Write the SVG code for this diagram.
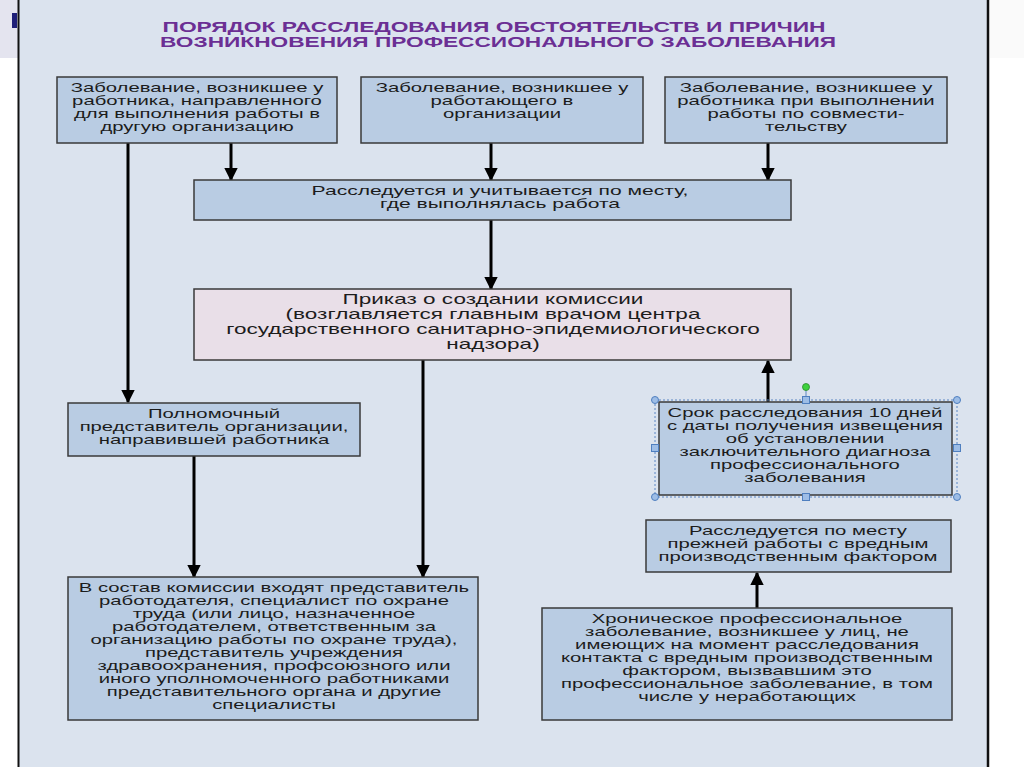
<svg xmlns="http://www.w3.org/2000/svg" width="1024" height="767" viewBox="0 0 1024 767">
<defs>
<style>
.box{fill:#b9cce3;stroke:#3a3a3a;stroke-width:1.5}
.pink{fill:#e9dfe8;stroke:#3a3a3a;stroke-width:1.5}
.t{font-family:"Liberation Sans",Arial,sans-serif;font-size:13px;fill:#1c1c1c;text-anchor:middle}
.tp{font-family:"Liberation Sans",Arial,sans-serif;font-size:14px;fill:#1c1c1c;text-anchor:middle}
.title{font-family:"Liberation Sans",Arial,sans-serif;font-size:14px;font-weight:bold;fill:#6b2f94;text-anchor:middle}
.c{stroke:#000;stroke-width:3;fill:none}
.hc{fill:#9dbde6;stroke:#4f7fbf;stroke-width:1}
</style>
<marker id="ah" viewBox="0 0 10 10" refX="9" refY="5" markerWidth="4.6" markerHeight="4.6" markerUnits="strokeWidth" orient="auto">
<path d="M0,0 L10,5 L0,10 Z" fill="#000"/>
</marker>
</defs>
<rect x="0" y="0" width="1024" height="767" fill="#ffffff"/>
<rect x="0" y="0" width="18" height="58" fill="#e4e4ef"/>
<rect x="12" y="13" width="5" height="15" fill="#1f1f78"/>
<rect x="990" y="0" width="34" height="58" fill="#fafafa"/>
<rect x="18" y="0" width="970" height="767" fill="#dbe3ee"/>
<line x1="18.5" y1="0" x2="18.5" y2="767" stroke="#111" stroke-width="2"/>
<line x1="988" y1="0" x2="988" y2="767" stroke="#111" stroke-width="2.5"/>

<g id="title">
<text class="title" x="494" y="32" textLength="663" lengthAdjust="spacingAndGlyphs">ПОРЯДОК РАССЛЕДОВАНИЯ ОБСТОЯТЕЛЬСТВ И ПРИЧИН</text>
<text class="title" x="498" y="47" textLength="676" lengthAdjust="spacingAndGlyphs">ВОЗНИКНОВЕНИЯ ПРОФЕССИОНАЛЬНОГО ЗАБОЛЕВАНИЯ</text>
</g>

<g id="connectors">
<line class="c" x1="128" y1="143" x2="128" y2="402" marker-end="url(#ah)"/>
<line class="c" x1="231" y1="143" x2="231" y2="180" marker-end="url(#ah)"/>
<line class="c" x1="491" y1="143" x2="491" y2="180" marker-end="url(#ah)"/>
<line class="c" x1="768" y1="143" x2="768" y2="180" marker-end="url(#ah)"/>
<line class="c" x1="491" y1="220" x2="491" y2="289" marker-end="url(#ah)"/>
<line class="c" x1="423" y1="360" x2="423" y2="577" marker-end="url(#ah)"/>
<line class="c" x1="194" y1="456" x2="194" y2="577" marker-end="url(#ah)"/>
<line class="c" x1="768" y1="402" x2="768" y2="361" marker-end="url(#ah)"/>
<line class="c" x1="757" y1="608" x2="757" y2="573" marker-end="url(#ah)"/>
</g>

<g id="nodeA">
<rect class="box" x="57" y="77" width="280" height="66"/>
<g transform="translate(197,0) scale(1.56,1)">
<text class="t" x="0" y="92">Заболевание, возникшее у</text>
<text class="t" x="0" y="105">работника, направленного</text>
<text class="t" x="0" y="118">для выполнения работы в</text>
<text class="t" x="0" y="131">другую организацию</text>
</g>
</g>

<g id="nodeB">
<rect class="box" x="361" y="77" width="282" height="66"/>
<g transform="translate(502,0) scale(1.56,1)">
<text class="t" x="0" y="92">Заболевание, возникшее у</text>
<text class="t" x="0" y="105">работающего в</text>
<text class="t" x="0" y="118">организации</text>
</g>
</g>

<g id="nodeC">
<rect class="box" x="665" y="77" width="282" height="66"/>
<g transform="translate(806,0) scale(1.56,1)">
<text class="t" x="0" y="92">Заболевание, возникшее у</text>
<text class="t" x="0" y="105">работника при выполнении</text>
<text class="t" x="0" y="118">работы по совмести-</text>
<text class="t" x="0" y="131">тельству</text>
</g>
</g>

<g id="nodeD">
<rect class="box" x="194" y="180" width="597" height="40"/>
<g transform="translate(500,0) scale(1.62,1)">
<text class="t" x="0" y="195">Расследуется и учитывается по месту,</text>
<text class="t" x="0" y="208">где выполнялась работа</text>
</g>
</g>

<g id="nodeE">
<rect class="pink" x="194" y="289" width="597" height="71"/>
<g transform="translate(493,0) scale(1.61,1)">
<text class="tp" x="0" y="304">Приказ о создании комиссии</text>
<text class="tp" x="0" y="319">(возглавляется главным врачом центра</text>
<text class="tp" x="0" y="334">государственного санитарно-эпидемиологического</text>
<text class="tp" x="0" y="349">надзора)</text>
</g>
</g>

<g id="nodeF">
<rect class="box" x="68" y="403" width="292" height="53"/>
<g transform="translate(214,0) scale(1.56,1)">
<text class="t" x="0" y="418">Полномочный</text>
<text class="t" x="0" y="431">представитель организации,</text>
<text class="t" x="0" y="444">направившей работника</text>
</g>
</g>

<g id="nodeG">
<rect class="box" x="68" y="577" width="410" height="143"/>
<g transform="translate(274,0) scale(1.56,1)">
<text class="t" x="0" y="592">В состав комиссии входят представитель</text>
<text class="t" x="0" y="605">работодателя, специалист по охране</text>
<text class="t" x="0" y="618">труда (или лицо, назначенное</text>
<text class="t" x="0" y="631">работодателем, ответственным за</text>
<text class="t" x="0" y="644">организацию работы по охране труда),</text>
<text class="t" x="0" y="657">представитель учреждения</text>
<text class="t" x="0" y="670">здравоохранения, профсоюзного или</text>
<text class="t" x="0" y="683">иного уполномоченного работниками</text>
<text class="t" x="0" y="696">представительного органа и другие</text>
<text class="t" x="0" y="709">специалисты</text>
</g>
</g>

<g id="nodeH">
<rect class="box" x="659" y="402" width="293" height="93"/>
<g transform="translate(805,0) scale(1.56,1)">
<text class="t" x="0" y="417">Срок расследования 10 дней</text>
<text class="t" x="0" y="430">с даты получения извещения</text>
<text class="t" x="0" y="443">об установлении</text>
<text class="t" x="0" y="456">заключительного диагноза</text>
<text class="t" x="0" y="469">профессионального</text>
<text class="t" x="0" y="482">заболевания</text>
</g>
<g id="selection">
<rect x="655" y="400" width="302" height="97" fill="none" stroke="#5b86c4" stroke-width="1" stroke-dasharray="2,2"/>
<line x1="806" y1="388" x2="806" y2="400" stroke="#5b86c4" stroke-width="1"/>
<circle cx="806" cy="387" r="3.5" fill="#3ed13e" stroke="#2a8a2a" stroke-width="0.8"/>
<circle class="hc" cx="655" cy="400" r="3.5"/>
<circle class="hc" cx="957" cy="400" r="3.5"/>
<circle class="hc" cx="655" cy="497" r="3.5"/>
<circle class="hc" cx="957" cy="497" r="3.5"/>
<rect class="hc" x="802.5" y="396.5" width="7" height="7"/>
<rect class="hc" x="802.5" y="493.5" width="7" height="7"/>
<rect class="hc" x="651.5" y="444.5" width="7" height="7"/>
<rect class="hc" x="953.5" y="444.5" width="7" height="7"/>
</g>
</g>

<g id="nodeI">
<rect class="box" x="646" y="520" width="305" height="52"/>
<g transform="translate(798,0) scale(1.56,1)">
<text class="t" x="0" y="535">Расследуется по месту</text>
<text class="t" x="0" y="548">прежней работы с вредным</text>
<text class="t" x="0" y="561">производственным фактором</text>
</g>
</g>

<g id="nodeJ">
<rect class="box" x="542" y="608" width="410" height="112"/>
<g transform="translate(747,0) scale(1.56,1)">
<text class="t" x="0" y="623">Хроническое профессиональное</text>
<text class="t" x="0" y="636">заболевание, возникшее у лиц, не</text>
<text class="t" x="0" y="649">имеющих на момент расследования</text>
<text class="t" x="0" y="662">контакта с вредным производственным</text>
<text class="t" x="0" y="675">фактором, вызвавшим это</text>
<text class="t" x="0" y="688">профессиональное заболевание, в том</text>
<text class="t" x="0" y="701">числе у неработающих</text>
</g>
</g>
</svg>
